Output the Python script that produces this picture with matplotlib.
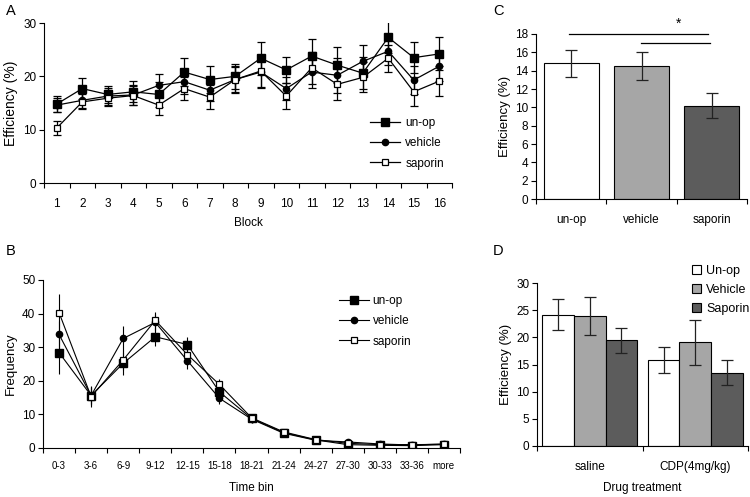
import numpy as np
import matplotlib
matplotlib.use("Agg")
import matplotlib.pyplot as plt

plt.rcParams['font.family'] = ['Liberation Sans', 'DejaVu Sans']
plt.rcParams['font.size'] = 8.5

# ---------------- data ----------------
blocks = list(range(1, 17))
unop_A = [14.8, 17.7, 16.6, 17.1, 16.6, 20.8, 19.4, 20.0, 23.4, 21.2, 23.8, 22.1, 20.6, 27.3, 23.5, 24.2]
unop_A_err = [1.5, 2.0, 1.6, 2.0, 2.4, 2.6, 2.6, 2.3, 3.1, 2.5, 3.2, 3.4, 3.0, 3.0, 2.9, 3.1]
vehicle_A = [14.6, 15.5, 16.3, 16.5, 18.3, 19.0, 17.4, 19.4, 20.8, 17.7, 20.8, 20.2, 22.8, 24.7, 19.3, 21.9]
vehicle_A_err = [1.3, 1.5, 1.6, 1.8, 2.2, 2.3, 2.0, 2.3, 3.0, 2.1, 3.0, 3.3, 3.0, 2.6, 2.6, 2.8]
saporin_A = [10.3, 15.2, 15.9, 16.4, 14.6, 17.7, 16.1, 19.4, 21.0, 16.3, 21.6, 18.5, 19.8, 23.4, 17.1, 19.1]
saporin_A_err = [1.3, 1.4, 1.5, 1.8, 1.9, 2.2, 2.3, 2.5, 3.0, 2.4, 3.0, 3.0, 2.8, 2.5, 2.7, 2.8]

bins = ['0-3', '3-6', '6-9', '9-12', '12-15', '15-18', '18-21', '21-24',
        '24-27', '27-30', '30-33', '33-36', 'more']
unop_B = [28.4, 15.6, 25.2, 33.1, 30.8, 16.7, 8.8, 4.6, 2.4, 1.0, 0.8, 0.7, 1.0]
unop_B_err = [6.3, 2.5, 3.5, 2.7, 2.3, 1.5, 1.0, 0.6, 0.5, 0.3, 0.2, 0.2, 0.3]
vehicle_B = [33.8, 15.6, 32.6, 37.4, 26.0, 14.8, 8.6, 4.4, 2.3, 1.8, 1.2, 0.9, 1.2]
vehicle_B_err = [4.0, 2.8, 3.8, 2.5, 2.5, 1.8, 1.3, 0.6, 0.5, 0.4, 0.3, 0.2, 0.3]
saporin_B = [40.3, 15.3, 26.2, 38.0, 27.8, 18.9, 9.0, 4.8, 2.5, 1.4, 1.0, 1.0, 1.1]
saporin_B_err = [5.5, 3.0, 3.0, 2.6, 2.5, 1.5, 1.2, 0.6, 0.5, 0.3, 0.2, 0.2, 0.3]

groups_C = ['un-op', 'vehicle', 'saporin']
means_C = [14.8, 14.5, 10.2]
errs_C = [1.45, 1.55, 1.33]

treatments_D = ['saline', 'CDP(4mg/kg)']
unop_D = [24.2, 15.8]
unop_D_err = [2.85, 2.45]
vehicle_D = [23.9, 19.1]
vehicle_D_err = [3.5, 4.1]
saporin_D = [19.45, 13.5]
saporin_D_err = [2.35, 2.35]

# ---------------- figure ----------------
W, H = 750, 497
fig = plt.figure(figsize=(W / 100, H / 100), dpi=100)


def px_axes(x0, y0, x1, y1):
    return fig.add_axes([x0 / W, 1 - y1 / H, (x1 - x0) / W, (y1 - y0) / H])


def style(ax):
    ax.spines['top'].set_visible(False)
    ax.spines['right'].set_visible(False)
    ax.tick_params(axis='both', which='major', direction='out', length=3.5, width=0.8)
    ax.tick_params(axis='y', which='major', pad=2)
    ax.tick_params(axis='x', which='minor', length=0, pad=10.5)


GRAY = '#a6a6a6'
DARK = '#5c5c5c'

# ---- Panel A ----
axA = px_axes(44, 23, 452, 183)
style(axA)
series_A = [
    (unop_A, unop_A_err, dict(marker='s', mfc='black', mec='black', ms=6), 'un-op'),
    (vehicle_A, vehicle_A_err, dict(marker='o', mfc='black', mec='black', ms=4.5), 'vehicle'),
    (saporin_A, saporin_A_err, dict(marker='s', mfc='white', mec='black', ms=5, mew=0.9), 'saporin'),
]
for vals, errs, mk, lab in series_A:
    axA.errorbar(blocks, vals, yerr=errs, color='black', lw=0.9, elinewidth=0.9,
                 capsize=3, capthick=0.9, label=lab, **mk)
axA.set_xlim(0.5, 16.5)
axA.set_ylim(0, 30)
axA.set_yticks([0, 10, 20, 30])
axA.set_xticks(np.arange(0.5, 17, 1))
axA.set_xticklabels([])
axA.set_xticks(blocks, minor=True)
axA.set_xticklabels([str(b) for b in blocks], minor=True)
axA.set_xlabel('Block', labelpad=5)
axA.set_ylabel('Efficiency (%)', labelpad=4, fontsize=10)
hA, lA = axA.get_legend_handles_labels()
axA.legend([h[0] for h in hA], lA, loc='upper left', frameon=False,
           bbox_to_anchor=(370 / W, 1 - 117 / H), bbox_transform=fig.transFigure,
           borderpad=0, borderaxespad=0, handlelength=2.5, handletextpad=0.5,
           labelspacing=0.7, fontsize=8.5)

# ---- Panel B ----
axB = px_axes(43, 280, 460, 448)
style(axB)
xb = np.arange(len(bins))
series_B = [
    (unop_B, unop_B_err, dict(marker='s', mfc='black', mec='black', ms=6), 'un-op'),
    (vehicle_B, vehicle_B_err, dict(marker='o', mfc='black', mec='black', ms=4.5), 'vehicle'),
    (saporin_B, saporin_B_err, dict(marker='s', mfc='white', mec='black', ms=5, mew=0.9), 'saporin'),
]
for vals, errs, mk, lab in series_B:
    axB.errorbar(xb, vals, yerr=errs, color='black', lw=0.8, elinewidth=0.8,
                 capsize=0, label=lab, **mk)
axB.set_xlim(-0.5, len(bins) - 0.5)
axB.set_ylim(0, 50)
axB.set_yticks([0, 10, 20, 30, 40, 50])
axB.set_xticks(np.arange(-0.5, len(bins), 1))
axB.set_xticklabels([])
axB.set_xticks(xb, minor=True)
axB.set_xticklabels(bins, minor=True, fontsize=7)
axB.tick_params(axis='x', which='minor', pad=9.5)
axB.set_xlabel('Time bin', labelpad=8)
axB.set_ylabel('Frequency', labelpad=4, fontsize=9.5)
hB, lB = axB.get_legend_handles_labels()
axB.legend([h[0] for h in hB], lB, loc='upper left', frameon=False,
           bbox_to_anchor=(339 / W, 1 - 295 / H), bbox_transform=fig.transFigure,
           borderpad=0, borderaxespad=0, handlelength=2.5, handletextpad=0.35,
           labelspacing=0.7, fontsize=8.5)

# ---- Panel C ----
axC = px_axes(536, 34, 747, 199)
style(axC)
xc = np.arange(len(groups_C))
axC.bar(xc, means_C, width=0.78, color=['white', GRAY, DARK], edgecolor='black', linewidth=0.8,
        yerr=errs_C, capsize=4, error_kw=dict(elinewidth=0.9, capthick=0.9, ecolor='#222222'))
axC.set_xlim(-0.5, 2.5)
axC.set_ylim(0, 18)
axC.set_yticks(np.arange(0, 19, 2))
axC.set_xticks([-0.5, 0.5, 1.5, 2.5])
axC.set_xticklabels([])
axC.set_xticks(xc, minor=True)
axC.set_xticklabels(groups_C, minor=True, fontsize=8.5)
axC.set_ylabel('Efficiency (%)', labelpad=3, fontsize=9.5)
axC.plot([-0.03, 1.95], [18, 18], color='black', lw=0.9, clip_on=False)
axC.plot([0.99, 1.97], [17, 17], color='black', lw=0.9, clip_on=False)
axC.text(1.53, 18.3, '*', ha='center', va='bottom', fontsize=10)

# ---- Panel D ----
axD = px_axes(537, 283, 748, 446)
style(axD)
xd = np.arange(len(treatments_D))
bw = 0.30
for i, (vals, errs, col, lab) in enumerate([
        (unop_D, unop_D_err, 'white', 'Un-op'),
        (vehicle_D, vehicle_D_err, GRAY, 'Vehicle'),
        (saporin_D, saporin_D_err, DARK, 'Saporin')]):
    axD.bar(xd + (i - 1) * bw, vals, width=bw, color=col, edgecolor='black', linewidth=0.8,
            yerr=errs, capsize=4, label=lab,
            error_kw=dict(elinewidth=0.9, capthick=0.9, ecolor='#222222'))
axD.set_xlim(-0.5, 1.5)
axD.set_ylim(0, 30)
axD.set_yticks(np.arange(0, 31, 5))
axD.set_xticks([-0.5, 0.5, 1.5])
axD.set_xticklabels([])
axD.set_xticks(xd, minor=True)
axD.set_xticklabels(treatments_D, minor=True, fontsize=8.5)
axD.set_xlabel('Drug treatment', labelpad=7, fontsize=8.5)
axD.set_ylabel('Efficiency (%)', labelpad=3, fontsize=9.5)
axD.legend(loc='upper left', frameon=False,
           bbox_to_anchor=(692 / W, 1 - 265 / H), bbox_transform=fig.transFigure,
           borderpad=0, borderaxespad=0, handlelength=0.75, handleheight=0.75,
           handletextpad=0.4, labelspacing=0.55, fontsize=9)

# ---- panel letters ----
for lab, x, y in [('A', 6, 4), ('B', 6, 244), ('C', 493, 4), ('D', 493, 244)]:
    fig.text(x / W, 1 - y / H, lab, ha='left', va='top', fontsize=10.5)

fig.savefig('out.png', dpi=100)
